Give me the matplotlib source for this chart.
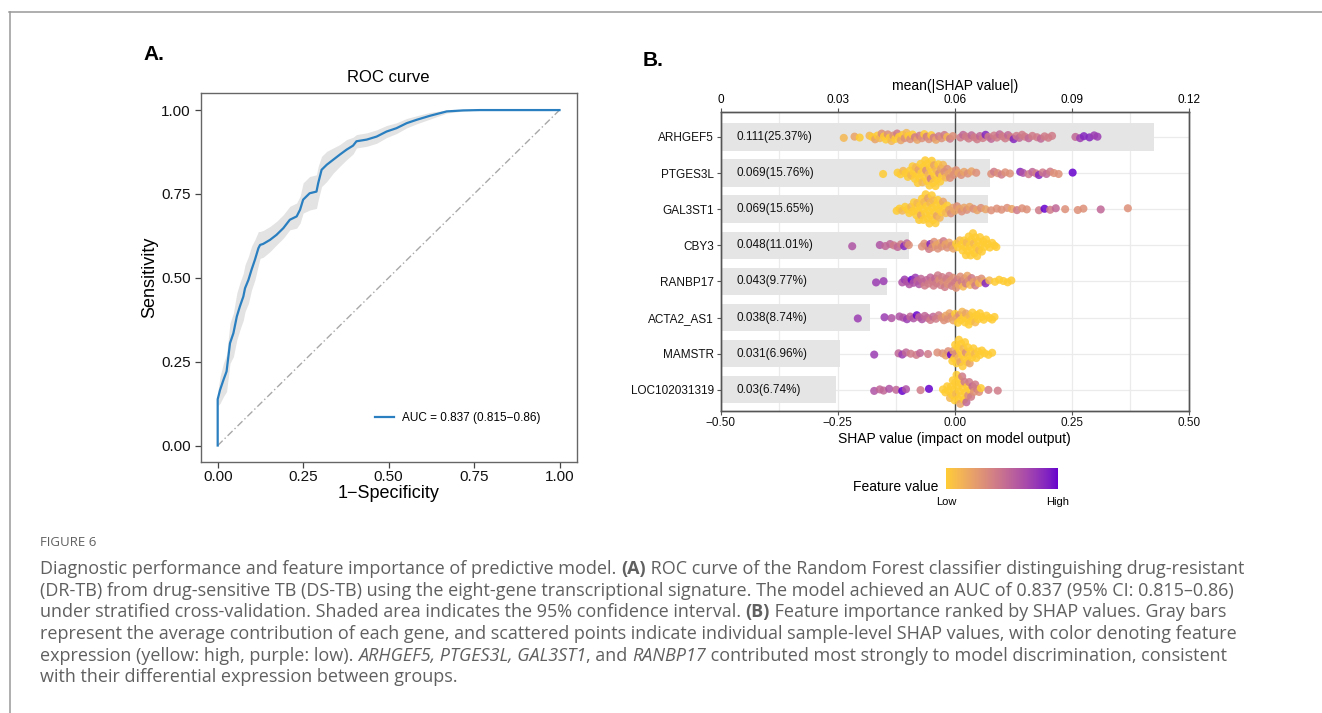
import numpy as np
import matplotlib
matplotlib.use("Agg")
import matplotlib.pyplot as plt
from matplotlib.colors import ListedColormap
from matplotlib.lines import Line2D
from matplotlib.cm import ScalarMappable

W, H = 1322, 713

# ---------------- panel A: ROC curve ----------------
fpr = [0, 0, .007, .017, .026, .036, .046, .056, .065, .075, .080, .090, .099, .109, .119,
       .124, .133, .153, .172, .192, .211, .231, .241, .250, .269, .289, .294, .304, .319,
       .338, .357, .377, .396, .406, .436, .465, .494, .523, .553, .582, .621, .670, .718,
       .767, 1.0]
tpr = [0, .138, .166, .196, .221, .305, .335, .385, .415, .444, .469, .494, .524, .554, .588,
       .598, .601, .613, .628, .648, .673, .683, .703, .733, .752, .757, .782, .822, .837,
       .852, .867, .882, .894, .907, .912, .921, .936, .946, .961, .971, .983, .996, .999,
       1, 1]
tpr_hi = [0, .158, .206, .246, .271, .365, .395, .455, .485, .514, .539, .564, .594, .614, .638,
          .638, .641, .653, .668, .688, .713, .723, .743, .783, .802, .807, .832, .862, .877,
          .887, .897, .912, .919, .927, .932, .941, .954, .962, .975, .983, .993, 1, 1, 1, 1]
tpr_lo = [0, .118, .126, .146, .161, .245, .265, .315, .345, .374, .399, .424, .464, .494, .538,
          .558, .561, .578, .598, .618, .643, .648, .663, .693, .702, .707, .732, .772, .787,
          .812, .832, .852, .869, .887, .892, .901, .918, .930, .947, .959, .973, .991, .997,
          1, 1]
auc_label = "AUC = 0.837 (0.815\u22120.86)"

# ---------------- panel B: SHAP importance ----------------
genes = ["ARHGEF5", "PTGES3L", "GAL3ST1", "CBY3", "RANBP17", "ACTA2_AS1", "MAMSTR", "LOC102031319"]
mean_abs_shap = [0.1110, 0.0690, 0.0685, 0.0482, 0.0427, 0.0382, 0.0305, 0.0295]
bar_labels = ["0.111(25.37%)", "0.069(15.76%)", "0.069(15.65%)", "0.048(11.01%)",
              "0.043(9.77%)", "0.038(8.74%)", "0.031(6.96%)", "0.03(6.74%)"]

# (SHAP value, feature value 0 = low .. 9 = high), one pair per sample
pts_arhgef5 = [(-.237, 1), (-.214, 2), (-.203, 0), (-.182, 1), (-.176, 0), (-.170, 2), (-.165, 0),
               (-.160, 1), (-.156, 3), (-.151, 0), (-.147, 0), (-.143, 3), (-.139, 0), (-.135, 1),
               (-.131, 3), (-.127, 0), (-.123, 4), (-.119, 0), (-.115, 2), (-.111, 0), (-.107, 3),
               (-.103, 1), (-.099, 0), (-.095, 3), (-.090, 0), (-.085, 4), (-.080, 2), (-.075, 4),
               (-.070, 3), (-.065, 0), (-.060, 4), (-.055, 3), (-.050, 0), (-.045, 4), (-.040, 2),
               (-.034, 4), (-.028, 3), (-.022, 4), (-.016, 1), (-.010, 4), (-.004, 3),
               (.012, 4), (.018, 5), (.024, 4), (.030, 4), (.036, 5), (.042, 4), (.048, 4),
               (.054, 5), (.060, 4), (.066, 8), (.072, 4), (.078, 5), (.084, 4), (.090, 4),
               (.096, 5), (.102, 4), (.108, 4), (.114, 5), (.120, 4), (.126, 8), (.132, 4),
               (.138, 5), (.144, 4), (.150, 4), (.158, 5), (.166, 4), (.176, 4), (.184, 5),
               (.192, 4), (.200, 4), (.208, 4), (.258, 5), (.268, 7), (.276, 8), (.288, 8),
               (.298, 7), (.305, 7)]
pts_ptges3l = [(-.153, 0), (-.122, 0), (-.116, 0), (-.110, 1), (-.105, 0), (-.100, 0), (-.096, 0),
               (-.093, 1), (-.090, 0), (-.088, 0), (-.085, 0), (-.083, 1), (-.081, 0), (-.079, 0),
               (-.077, 2), (-.075, 0), (-.073, 0), (-.071, 0), (-.069, 1), (-.067, 0), (-.065, 0),
               (-.063, 0), (-.061, 3), (-.059, 0), (-.058, 0), (-.056, 1), (-.054, 0), (-.053, 0),
               (-.051, 4), (-.049, 0), (-.048, 0), (-.046, 0), (-.044, 2), (-.043, 0), (-.041, 0),
               (-.039, 1), (-.037, 0), (-.035, 0), (-.033, 3), (-.031, 0), (-.029, 2), (-.027, 0),
               (-.025, 1), (-.022, 3), (-.019, 1), (-.016, 3), (-.013, 2), (-.010, 3), (-.006, 2),
               (-.002, 3), (.003, 3), (.008, 2), (.014, 3), (.020, 2), (.028, 3), (.036, 2),
               (.046, 3), (.078, 3), (.084, 4), (.092, 3), (.100, 4), (.108, 3), (.118, 3),
               (.140, 8), (.146, 6), (.158, 4), (.166, 5), (.174, 4), (.180, 8), (.188, 4),
               (.196, 5), (.204, 4), (.212, 3), (.222, 3), (.252, 9)]
pts_gal3st1 = [(-.124, 0), (-.118, 0), (-.112, 1), (-.106, 0), (-.101, 0), (-.097, 0), (-.093, 1),
               (-.090, 0), (-.087, 0), (-.084, 0), (-.082, 0), (-.080, 1), (-.078, 0), (-.076, 0),
               (-.074, 0), (-.072, 2), (-.070, 0), (-.068, 0), (-.067, 0), (-.065, 1), (-.063, 0),
               (-.062, 0), (-.060, 0), (-.058, 0), (-.057, 2), (-.055, 0), (-.054, 0), (-.052, 1),
               (-.051, 0), (-.049, 0), (-.048, 0), (-.046, 0), (-.045, 1), (-.043, 0), (-.041, 0),
               (-.040, 0), (-.038, 2), (-.036, 0), (-.034, 0), (-.032, 1), (-.030, 0), (-.028, 0),
               (-.025, 2), (-.022, 0), (-.019, 1), (-.016, 0), (-.012, 2), (-.008, 3), (-.004, 2),
               (.000, 2), (.005, 3), (.010, 2), (.015, 3), (.020, 2), (.026, 3), (.032, 2),
               (.040, 3), (.048, 2), (.056, 3), (.066, 2), (.078, 3), (.090, 3), (.100, 3),
               (.112, 3), (.122, 2), (.133, 4), (.144, 3), (.154, 3), (.180, 4), (.192, 9),
               (.204, 4), (.216, 5), (.236, 3), (.263, 3), (.275, 3), (.312, 5), (.370, 3)]
pts_cby3 = [(-.219, 6), (-.160, 6), (-.148, 5), (-.138, 5), (-.130, 4), (-.122, 5), (-.115, 4),
            (-.108, 8), (-.102, 5), (-.098, 3), (-.070, 3), (-.065, 3), (-.060, 3), (-.055, 4),
            (-.052, 8), (-.048, 3), (-.044, 3), (-.040, 2), (-.036, 3), (-.032, 2), (-.028, 3),
            (-.024, 4), (-.020, 2), (-.016, 3), (-.012, 2), (-.007, 3), (-.003, 2), (.003, 0),
            (.007, 0), (.011, 1), (.014, 0), (.017, 0), (.020, 0), (.022, 0), (.024, 0), (.026, 1),
            (.028, 0), (.030, 0), (.032, 0), (.034, 0), (.036, 0), (.037, 0), (.039, 0), (.041, 1),
            (.042, 0), (.044, 0), (.046, 0), (.048, 0), (.050, 0), (.052, 1), (.054, 0), (.056, 0),
            (.058, 0), (.061, 0), (.064, 0), (.067, 0), (.071, 0), (.075, 0), (.080, 0), (.085, 0),
            (.089, 0)]
pts_ranbp17 = [(-.168, 7), (-.152, 7), (-.112, 6), (-.107, 7), (-.102, 6), (-.097, 6), (-.092, 9),
               (-.088, 6), (-.084, 7), (-.080, 5), (-.076, 6), (-.072, 5), (-.068, 5), (-.064, 4),
               (-.060, 5), (-.056, 4), (-.052, 5), (-.048, 4), (-.045, 4), (-.042, 5), (-.039, 4),
               (-.036, 4), (-.033, 3), (-.030, 4), (-.027, 4), (-.024, 3), (-.021, 4), (-.018, 4),
               (-.015, 3), (-.012, 4), (-.009, 3), (-.006, 4), (-.003, 3), (.000, 4), (.003, 3),
               (.006, 4), (.009, 2), (.012, 3), (.015, 4), (.018, 1), (.021, 3), (.024, 4),
               (.027, 2), (.030, 3), (.033, 1), (.036, 4), (.040, 2), (.044, 4), (.048, 3),
               (.052, 1), (.057, 3), (.062, 2), (.066, 8), (.074, 1), (.086, 0), (.095, 0),
               (.104, 0), (.113, 0), (.121, 0)]
pts_acta2 = [(-.207, 7), (-.150, 7), (-.135, 6), (-.118, 6), (-.110, 6), (-.102, 7), (-.095, 5),
             (-.088, 6), (-.081, 9), (-.076, 5), (-.070, 6), (-.064, 5), (-.058, 5), (-.052, 4),
             (-.046, 5), (-.040, 4), (-.034, 4), (-.028, 3), (-.023, 3), (-.019, 2), (-.015, 3),
             (-.011, 2), (-.007, 3), (-.003, 2), (.001, 0), (.004, 2), (.007, 0), (.010, 3),
             (.013, 0), (.016, 1), (.019, 0), (.022, 0), (.024, 2), (.027, 0), (.030, 0),
             (.032, 1), (.035, 0), (.038, 0), (.041, 0), (.044, 1), (.047, 0), (.050, 0),
             (.054, 0), (.058, 0), (.062, 0), (.068, 0), (.074, 0), (.080, 0), (.085, 0)]
pts_mamstr = [(-.172, 7), (-.120, 5), (-.112, 7), (-.104, 5), (-.094, 4), (-.082, 4), (-.074, 5),
              (-.057, 4), (-.037, 3), (-.026, 3), (-.019, 2), (-.014, 3), (-.008, 9), (-.005, 0),
              (-.003, 2), (-.001, 0), (.001, 0), (.003, 3), (.004, 0), (.006, 0), (.008, 1),
              (.009, 0), (.011, 0), (.012, 2), (.014, 0), (.016, 0), (.017, 0), (.019, 1),
              (.021, 0), (.022, 0), (.024, 3), (.026, 0), (.028, 0), (.030, 0), (.032, 2),
              (.034, 0), (.037, 0), (.040, 0), (.043, 1), (.046, 0), (.050, 0), (.054, 0),
              (.058, 0), (.064, 0), (.072, 0), (.080, 0)]
pts_loc = [(-.172, 6), (-.160, 5), (-.152, 5), (-.140, 6), (-.125, 5), (-.112, 9), (-.104, 6),
           (-.073, 4), (-.055, 9), (-.025, 0), (-.020, 0), (-.016, 0), (-.013, 0), (-.010, 1),
           (-.008, 0), (-.006, 0), (-.004, 0), (-.002, 0), (.000, 0), (.001, 0), (.003, 1),
           (.004, 0), (.006, 0), (.007, 0), (.009, 0), (.010, 0), (.012, 2), (.013, 0), (.015, 0),
           (.016, 4), (.018, 0), (.020, 0), (.021, 4), (.023, 0), (.025, 5), (.027, 0), (.029, 3),
           (.031, 4), (.033, 0), (.035, 4), (.038, 5), (.041, 3), (.044, 4), (.048, 4), (.052, 3),
           (.056, 0), (.072, 4), (.092, 4)]
shap_points = [pts_arhgef5, pts_ptges3l, pts_gal3st1, pts_cby3, pts_ranbp17, pts_acta2,
               pts_mamstr, pts_loc]

caption_title = "FIGURE 6"
caption_lines = [
    [("Diagnostic performance and feature importance of predictive model. ", ""), ("(A)", "b"),
     (" ROC curve of the Random Forest classifier distinguishing drug-resistant", "")],
    [("(DR-TB) from drug-sensitive TB (DS-TB) using the eight-gene transcriptional signature. "
      "The model achieved an AUC of 0.837 (95% CI: 0.815\u20130.86)", "")],
    [("under stratified cross-validation. Shaded area indicates the 95% confidence interval. ", ""),
     ("(B)", "b"), (" Feature importance ranked by SHAP values. Gray bars", "")],
    [("represent the average contribution of each gene, and scattered points indicate individual "
      "sample-level SHAP values, with color denoting feature", "")],
    [("expression (yellow: high, purple: low). ", ""), ("ARHGEF5, PTGES3L, GAL3ST1", "i"),
     (", and ", ""), ("RANBP17", "i"),
     (" contributed most strongly to model discrimination, consistent", "")],
    [("with their differential expression between groups.", "")],
]


# ggplot-like gradient low "#FFCC33" -> high "#6600CC", interpolated in Lab
M = np.array([[0.4124, 0.3576, 0.1805], [0.2126, 0.7152, 0.0722], [0.0193, 0.1192, 0.9505]])
WHITE = np.array([0.95047, 1.0, 1.08883])


def hex2lab(h):
    rgb = np.array([int(h[i:i + 2], 16) for i in (1, 3, 5)]) / 255
    lin = np.where(rgb <= 0.04045, rgb / 12.92, ((rgb + 0.055) / 1.055) ** 2.4)
    xyz = M @ lin / WHITE
    f = np.where(xyz > 0.008856, np.cbrt(xyz), 7.787 * xyz + 16 / 116)
    return np.array([116 * f[1] - 16, 500 * (f[0] - f[1]), 200 * (f[1] - f[2])])


def lab2rgb(lab):
    fy = (lab[:, 0] + 16) / 116
    f = np.stack([fy + lab[:, 1] / 500, fy, fy - lab[:, 2] / 200], axis=1)
    xyz = np.where(f ** 3 > 0.008856, f ** 3, (f - 16 / 116) / 7.787) * WHITE
    lin = np.clip(xyz @ np.linalg.inv(M).T, 0, 1)
    rgb = np.where(lin <= 0.0031308, 12.92 * lin, 1.055 * lin ** (1 / 2.4) - 0.055)
    return np.clip(rgb, 0, 1)


t = np.linspace(0, 1, 256)[:, None]
lab_lo, lab_hi = hex2lab("#FFCC33"), hex2lab("#6600CC")
cmap = ListedColormap(lab2rgb(lab_lo + t * (lab_hi - lab_lo)))

plt.rcParams["font.family"] = ["Liberation Sans", "DejaVu Sans"]
fig = plt.figure(figsize=(W / 100, H / 100), dpi=100)


def fx(px):
    return px / W


def fy(py):
    return 1 - py / H


# page frame
fig.add_artist(Line2D([fx(9), 1], [fy(12), fy(12)], color="#999999", lw=1.1))
fig.add_artist(Line2D([fx(9.5), fx(9.5)], [fy(12), 0], color="#999999", lw=1.1))

# ---------------- panel A ----------------
axA = fig.add_axes([fx(200.6), fy(462.3), 376 / W, 369 / H])
axA.fill_between(fpr, tpr_lo, tpr_hi, color="#e3e3e3", lw=0, zorder=1)
axA.plot([0, 1], [0, 1], color="#a8a8a8", lw=1, ls=(0, (5, 2, 1, 2)), zorder=2)
axA.plot(fpr, tpr, color="#2a7fc0", lw=1.6, zorder=3, label=auc_label)
axA.set_xlim(-0.05, 1.05)
axA.set_ylim(-0.05, 1.05)
ticks = [0, 0.25, 0.5, 0.75, 1.0]
axA.set_xticks(ticks)
axA.set_yticks(ticks)
axA.set_xticklabels([f"{v:.2f}" for v in ticks])
axA.set_yticklabels([f"{v:.2f}" for v in ticks])
axA.tick_params(length=4, width=0.9, color="#444444", labelsize=11, labelcolor="#111111")
axA.tick_params(axis="x", pad=1.5)
axA.tick_params(axis="y", pad=3)
for s in axA.spines.values():
    s.set_color("#666666")
    s.set_linewidth(1)
axA.set_xlabel("1\u2212Specificity", fontsize=13, labelpad=1)
axA.set_ylabel("Sensitivity", fontsize=13, labelpad=2)
axA.set_title("ROC curve", fontsize=12, pad=8)
axA.legend(loc="center left", bbox_to_anchor=(0.463, 0.121), frameon=False, fontsize=8.5,
           handlelength=1.6, handletextpad=0.75, borderpad=0, borderaxespad=0)
fig.text(fx(143), fy(55), "A.", fontsize=15, fontweight="bold", va="center", ha="left")

# ---------------- panel B ----------------
ypos = np.arange(len(genes))[::-1]
axB = fig.add_axes([fx(720.7), fy(410.7), 468 / W, (410.7 - 112) / H])
axT = axB.twiny()
axB.set_zorder(axT.get_zorder() + 1)
axB.patch.set_visible(False)

axT.set_xlim(0, 0.12)
axT.set_xticks([0, 0.03, 0.06, 0.09, 0.12])
axT.set_xticklabels(["0", "0.03", "0.06", "0.09", "0.12"])
axT.set_xticks([0.015, 0.045, 0.075, 0.105], minor=True)
axT.set_axisbelow(True)
axT.grid(which="both", axis="x", color="#ebebeb", lw=0.9)
axT.hlines(ypos, 0, 0.12, color="#ebebeb", lw=0.9, zorder=0.5)
axT.barh(ypos, mean_abs_shap, height=0.76, color="#e5e5e5", zorder=1)
for y, lab in zip(ypos, bar_labels):
    axT.text(0.004, y, lab, va="center", ha="left", fontsize=8.5, color="#111111", zorder=2)
axT.tick_params(axis="x", which="major", length=3, color="#555555", labelsize=8.5, pad=1.5)
axT.tick_params(axis="x", which="minor", length=0)
axT.set_xlabel("mean(|SHAP value|)", fontsize=10, labelpad=3)

# sina-style layout: vertical spread grows with local point density
bw = 0.009
dens = []
for pts in shap_points:
    x = np.array([p[0] for p in pts])
    dens.append(np.exp(-0.5 * ((x[:, None] - x[None, :]) / bw) ** 2).sum(1))
dmax = max(d.max() for d in dens)
for y, pts, d in zip(ypos, shap_points, dens):
    x = np.array([p[0] for p in pts])
    fv = np.array([p[1] for p in pts]) / 9
    u = ((np.arange(len(x)) * 0.6180339887) % 1) * 2 - 1
    off = u * (0.02 + 0.44 * (d / dmax) ** 1.6)
    axB.scatter(x, y + off, c=fv, cmap=cmap, vmin=0, vmax=1, s=34, alpha=0.85,
                edgecolors="none", zorder=3)
axB.axvline(0, color="#4d4d4d", lw=1, zorder=2)

axB.set_xlim(-0.5, 0.5)
axB.set_ylim(-0.58, 7.69)
bt = [-0.5, -0.25, 0, 0.25, 0.5]
axB.set_xticks(bt)
axB.set_xticklabels([f"{v:.2f}".replace("-", "\u2212") for v in bt])
axB.set_yticks(ypos)
axB.set_yticklabels(genes)
axB.tick_params(length=3, color="#555555", labelsize=8.5, labelcolor="#111111")
axB.tick_params(axis="x", pad=1.5)
axB.tick_params(axis="y", pad=2)
for ax in (axB, axT):
    for s in ax.spines.values():
        s.set_color("#555555")
        s.set_linewidth(1)
axB.set_xlabel("SHAP value (impact on model output)", fontsize=10, labelpad=2)
fig.text(fx(643), fy(61), "B.", fontsize=15, fontweight="bold", va="center", ha="left")

# colour legend
cax = fig.add_axes([fx(946), fy(489), 112 / W, 21.3 / H])
cb = fig.colorbar(ScalarMappable(cmap=cmap), cax=cax, orientation="horizontal", ticks=[])
cb.outline.set_visible(False)
fig.text(fx(938), fy(487), "Feature value", fontsize=10, ha="right", va="center")
fig.text(fx(946), fy(502), "Low", fontsize=8, ha="center", va="center")
fig.text(fx(1058), fy(502), "High", fontsize=8, ha="center", va="center")

# ---------------- caption ----------------
cap_font = ["Open Sans", "DejaVu Sans"]
cap_col = "#606060"
renderer = fig.canvas.get_renderer()


def text_width(txt, **kw):
    a = fig.text(0, 0, txt + "|", **kw)
    b = fig.text(0, 0, "|", **kw)
    w = a.get_window_extent(renderer).width - b.get_window_extent(renderer).width
    a.remove()
    b.remove()
    return w


fig.text(fx(40), fy(542), caption_title, fontsize=9.5, family=cap_font, color=cap_col, va="center")
for k, parts in enumerate(caption_lines):
    x = 40
    for txt, st in parts:
        kw = dict(fontsize=13, family=cap_font, color=cap_col,
                  fontweight="bold" if "b" in st else "normal",
                  fontstyle="italic" if "i" in st else "normal")
        fig.text(fx(x), fy(569 + 21.7 * k), txt, va="center", ha="left", **kw)
        x += text_width(txt, **kw)

fig.savefig("out.png", dpi=100)
